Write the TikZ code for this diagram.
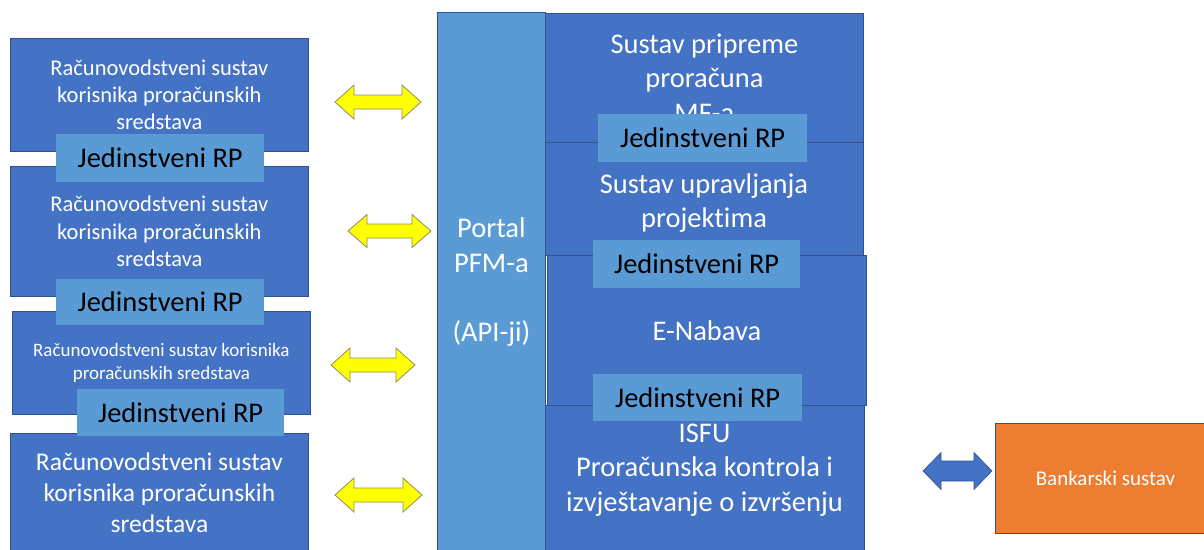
\documentclass[tikz,border=0pt]{standalone}
\usepackage{fontspec}
\setmainfont{Carlito}[Ligatures={NoCommon}]
\definecolor{sysblue}{HTML}{4472C4}
\definecolor{rpblue}{HTML}{5B9BD5}
\definecolor{edgeblue}{HTML}{2F528F}
\definecolor{bankorange}{HTML}{ED7D31}
\definecolor{arrowyellow}{HTML}{FFFF00}
\definecolor{arrowedge}{HTML}{8C8C6A}
\newcommand{\fs}[1]{\fontsize{#1}{1.21\dimexpr#1pt\relax}\selectfont}
% double-headed block arrow: style, left x, right x, centre y, half head, half shaft, head length
\newcommand{\dualarrow}[7]{%
  \draw[#1] (#2,#4) -- (#2+#7,#4-#5) -- (#2+#7,#4-#6) -- (#3-#7,#4-#6)
    -- (#3-#7,#4-#5) -- (#3,#4) -- (#3-#7,#4+#5) -- (#3-#7,#4+#6)
    -- (#2+#7,#4+#6) -- (#2+#7,#4+#5) -- cycle;}
\tikzset{
  sysbox/.style={draw=edgeblue, line width=0.8pt, fill=sysblue, text=white,
    anchor=north west, inner sep=0pt, align=center},
  systext/.style={text=white, align=center, inner sep=0pt},
  rpbox/.style={fill=rpblue, text=black, anchor=north west, inner sep=0pt,
    font=\fs{28.5}},
  yarrow/.style={fill=arrowyellow, draw=arrowedge, line width=0.8pt, line join=miter},
  barrow/.style={fill=sysblue, draw=edgeblue, line width=0.6pt, line join=miter},
}
\begin{document}
\begin{tikzpicture}[x=1pt, y=-1pt]
\useasboundingbox (0,0) rectangle (1204,549);

% accounting systems of budget users
\node[sysbox, minimum width=298pt, minimum height=113pt, font=\fs{22.5}] (k1) at (10,38)
  {Računovodstveni sustav\\korisnika proračunskih\\sredstava};
\node[sysbox, minimum width=298pt, minimum height=130pt, font=\fs{22.5}] (k2) at (10,166)
  {Računovodstveni sustav\\korisnika proračunskih\\sredstava};
\node[sysbox, minimum width=298pt, minimum height=103pt, font=\fs{19}] (k3) at (12,311)
  {Računovodstveni sustav korisnika\\proračunskih sredstava};
\node[sysbox, minimum width=298pt, minimum height=118pt, font=\fs{25.5}] (k4) at (10,433)
  {Računovodstveni sustav\\korisnika proračunskih\\sredstava};

\node[rpbox, minimum width=208pt, minimum height=48pt] (rp1) at (56,134) {Jedinstveni RP};
\node[rpbox, minimum width=208pt, minimum height=46pt] (rp2) at (56,279) {Jedinstveni RP};
\node[rpbox, minimum width=207pt, minimum height=47pt] (rp3) at (77,389) {Jedinstveni RP};

% central systems
\node[sysbox, minimum width=318pt, minimum height=129pt, font=\fs{28.5}] (s1) at (545,13)
  {Sustav pripreme\\proračuna\\MF-a};
\node[sysbox, minimum width=318pt, minimum height=113pt] (s2) at (545,142) {};
\node[systext, font=\fs{28.5}] (s2t) at (704,203)
  {Sustav upravljanja\\projektima};
\node[sysbox, minimum width=319pt, minimum height=150pt, font=\fs{28.5}] (s3) at (547,255)
  {E-Nabava};
\node[sysbox, minimum width=319pt, minimum height=146pt] (s4) at (545,405) {};
\node[systext, font=\fs{28.5}] (s4t) at (704.5,470)
  {ISFU\\Proračunska kontrola i\\izvještavanje o izvršenju};

\node[rpbox, minimum width=209pt, minimum height=48pt] (rp4) at (598,114) {Jedinstveni RP};
\node[rpbox, minimum width=207pt, minimum height=48pt] (rp5) at (593,240) {Jedinstveni RP};
\node[rpbox, minimum width=209pt, minimum height=47pt] (rp6) at (593,374) {Jedinstveni RP};

% portal
\node[sysbox, fill=rpblue, minimum width=108pt, minimum height=539pt, font=\fs{28.5}] (portal) at (437,12)
  {Portal\\PFM-a\\~\\(API-ji)};

% bank
\node[sysbox, fill=bankorange, minimum width=220pt, minimum height=110pt, font=\fs{21}] (bank) at (995,423)
  {Bankarski sustav};

% exchange arrows
\dualarrow{yarrow}{335}{421}{102}{17}{7}{19}
\dualarrow{yarrow}{348}{431}{231}{16.5}{7}{19}
\dualarrow{yarrow}{331}{415}{365}{17}{7}{19}
\dualarrow{yarrow}{335}{422}{495}{17}{7}{19}
\dualarrow{barrow}{923}{992}{471}{18.5}{10}{18}
\end{tikzpicture}
\end{document}
